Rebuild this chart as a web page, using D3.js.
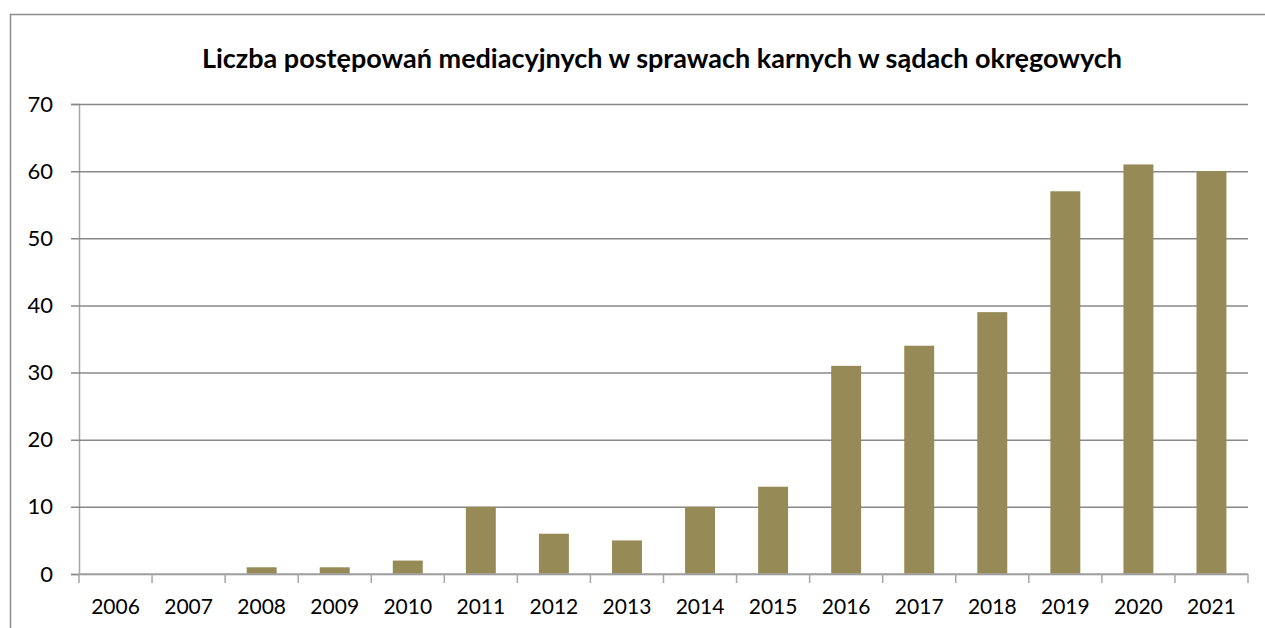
<!DOCTYPE html>
<html>
<head>
<meta charset="utf-8">
<script src="https://cdn.jsdelivr.net/npm/d3@7"></script>
<style>
  body { margin: 0; background: #fff; }
  svg { display: block; font-family: Lato, "Open Sans", sans-serif; }
</style>
</head>
<body>
<svg width="1265" height="628"></svg>
<script>
var years = ["2006", "2007", "2008", "2009", "2010", "2011", "2012", "2013",
             "2014", "2015", "2016", "2017", "2018", "2019", "2020", "2021"];
var counts = [0, 0, 1, 1, 2, 10, 6, 5, 10, 13, 31, 34, 39, 57, 61, 60];
var yTicks = [0, 10, 20, 30, 40, 50, 60, 70];
var title = "Liczba postępowań mediacyjnych w sprawach karnych w sądach okręgowych";

var data = years.map(function(y, i) { return { year: y, value: counts[i] }; });

var svg = d3.select("svg"),
    plotL = 79, plotR = 1248, plotT = 104, plotB = 574;

// outer chart border (right and bottom run off the page)
svg.append("rect")
    .attr("x", 10.5).attr("y", 14.5)
    .attr("width", 1300).attr("height", 700)
    .attr("fill", "none")
    .attr("stroke", "#8c8c8c")
    .attr("stroke-width", 1.5);

svg.append("text")
    .attr("x", 662)
    .attr("y", 68)
    .attr("text-anchor", "middle")
    .attr("font-size", "27px")
    .attr("font-weight", "bold")
    .text(title);

var x = d3.scaleBand().domain(years).range([plotL, plotR]).paddingInner(0.59).paddingOuter(0.295),
    y = d3.scaleLinear().domain([0, 70]).range([plotB, plotT]);

// gridlines with left ticks
svg.append("g")
    .attr("transform", "translate(" + plotL + ",0)")
    .call(d3.axisLeft(y).tickValues(yTicks).tickSize(8))
    .call(function(g) {
        g.select(".domain").attr("stroke", "#a6a6a6").attr("stroke-width", 1.5);
        g.selectAll(".tick line").attr("stroke", "#888").attr("stroke-width", 1.5)
            .attr("x2", plotR - plotL).attr("x1", -8);
        g.selectAll(".tick text").attr("font-size", "22px").attr("fill", "#000")
            .attr("font-family", "Lato, sans-serif").attr("x", -26);
    });

svg.append("g")
    .selectAll("rect")
    .data(data)
    .enter().append("rect")
    .attr("x", function(d) { return x(d.year); })
    .attr("y", function(d) { return y(d.value); })
    .attr("width", x.bandwidth())
    .attr("height", function(d) { return plotB - y(d.value); })
    .attr("fill", "#968b56");

// x axis with ticks between categories
var xg = svg.append("g").attr("transform", "translate(0," + plotB + ")");
xg.append("line")
    .attr("x1", plotL).attr("x2", plotR)
    .attr("stroke", "#a6a6a6").attr("stroke-width", 1.5);
var step = x.step();
xg.selectAll("line.tk")
    .data(d3.range(years.length + 1))
    .enter().append("line")
    .attr("class", "tk")
    .attr("x1", function(i) { return plotL + i * step; })
    .attr("x2", function(i) { return plotL + i * step; })
    .attr("y1", 0).attr("y2", 9)
    .attr("stroke", "#a6a6a6").attr("stroke-width", 1.5);
xg.selectAll("text")
    .data(years)
    .enter().append("text")
    .attr("x", function(d) { return x(d) + x.bandwidth() / 2; })
    .attr("y", 40)
    .attr("text-anchor", "middle")
    .attr("font-size", "21px")
    .text(function(d) { return d; });
</script>
</body>
</html>
